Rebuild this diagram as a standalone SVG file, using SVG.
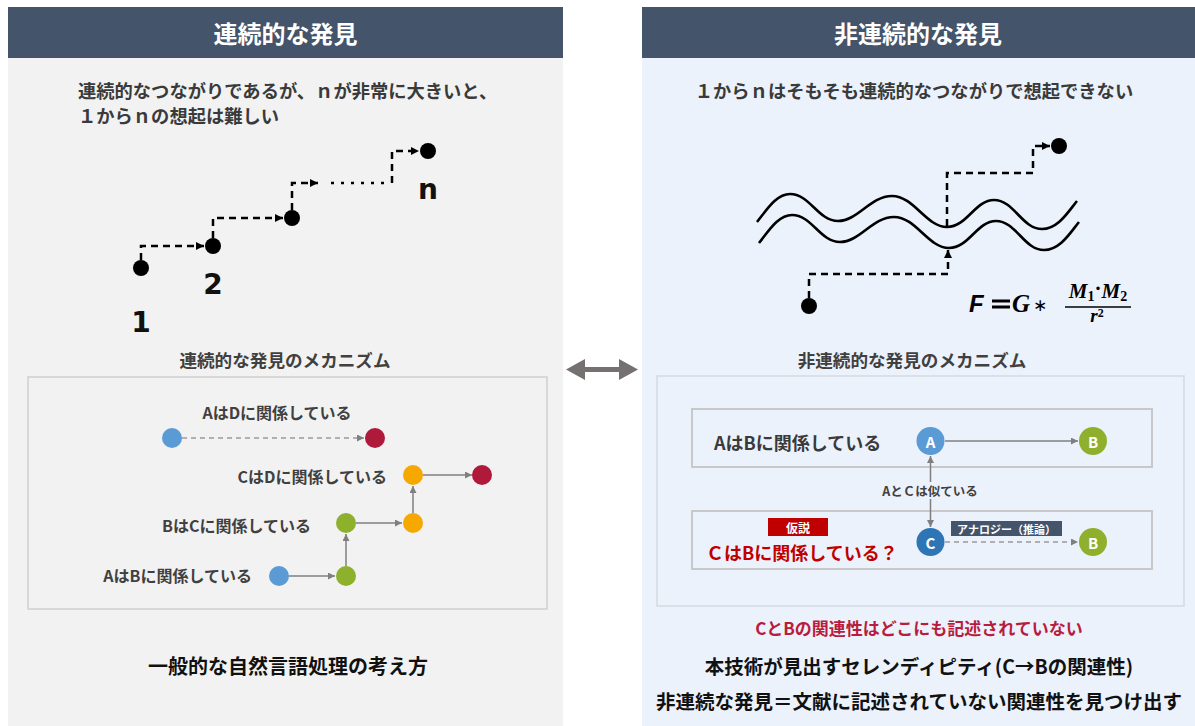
<svg xmlns="http://www.w3.org/2000/svg" width="1195" height="726" viewBox="0 0 1195 726">
<style>
.jp{font-family:'Noto Sans CJK JP','Noto Sans',sans-serif;font-weight:700}
.ttl{font-size:24px;fill:#ffffff}
.t18{font-size:18.3px;fill:#3a3a3a}
.t16{font-size:16px;fill:#404040}
.mt{font-size:17.6px;fill:#404040}
.num{font-family:'DejaVu Sans',Verdana,sans-serif;font-weight:700;font-size:28px;fill:#111}
.stair{fill:none;stroke:#000;stroke-width:2.5;stroke-dasharray:7 5}
.wave{fill:none;stroke:#000;stroke-width:2.6}
.gl{fill:none;stroke:#7f7f7f;stroke-width:1.5}
.gd{fill:none;stroke:#9a9a9a;stroke-width:1.5;stroke-dasharray:5 4}
.box{fill:none;stroke:#cfcfcf;stroke-width:1.5}
.cl{font-family:'Noto Sans CJK JP','Noto Sans',sans-serif;font-weight:700;font-size:15px;fill:#fff}
.math{font-family:'Liberation Serif','DejaVu Serif',serif;font-weight:700;font-style:italic;fill:#000}
</style>
<defs>
<marker id="ah" viewBox="0 0 10 10" refX="10" refY="5" markerWidth="9" markerHeight="8" markerUnits="userSpaceOnUse" orient="auto"><path d="M0,0 L10,5 L0,10 z" fill="#000"/></marker>
<marker id="ag" viewBox="0 0 10 10" refX="10" refY="5" markerWidth="8" markerHeight="7" markerUnits="userSpaceOnUse" orient="auto-start-reverse"><path d="M0,0 L10,5 L0,10 z" fill="#7f7f7f"/></marker>
</defs>

<!-- panels -->
<rect x="0" y="0" width="1195" height="726" fill="#ffffff"/>
<rect x="8" y="58" width="555" height="668" fill="#f2f2f2"/>
<rect x="642" y="58" width="553" height="668" fill="#ebf2fc"/>
<g id="hdr-left"><rect x="8" y="7" width="555" height="51" fill="#44546a"/><text class="jp ttl" x="285.5" y="32" text-anchor="middle" dominant-baseline="central">連続的な発見</text></g>
<g id="hdr-right"><rect x="642" y="7" width="553" height="51" fill="#44546a"/><text class="jp ttl" x="918" y="32" text-anchor="middle" dominant-baseline="central">非連続的な発見</text></g>

<!-- left texts -->
<text class="jp t18" x="78" y="90" dominant-baseline="central">連続的なつながりであるが、ｎが非常に大きいと、</text>
<text class="jp t18" x="78" y="115" dominant-baseline="central">１からｎの想起は難しい</text>

<!-- left staircase -->
<g id="stair-left">
<g id="connectors-stair">
<path class="stair" d="M141,260 V246 H204" marker-end="url(#ah)"/>
<path class="stair" d="M213,238 V218 H283" marker-end="url(#ah)"/>
<path class="stair" d="M292,210 V183 H318" marker-end="url(#ah)"/>
<line x1="331" y1="183" x2="384" y2="183" stroke="#000" stroke-width="2.5" stroke-dasharray="3 7"/>
<path class="stair" d="M392,183 V151 H419" marker-end="url(#ah)"/>
</g>
<g id="p1"><circle cx="141" cy="268" r="8" fill="#000"/><text class="num" x="141" y="322" text-anchor="middle" dominant-baseline="central">1</text></g>
<g id="p2"><circle cx="213" cy="246" r="8" fill="#000"/><text class="num" x="213" y="284" text-anchor="middle" dominant-baseline="central">2</text></g>
<g id="p3"><circle cx="292" cy="218" r="8" fill="#000"/></g>
<g id="pn"><circle cx="428" cy="151" r="8" fill="#000"/><text class="num" x="428" y="189" text-anchor="middle" dominant-baseline="central" font-size="30">n</text></g>
</g>

<!-- left mechanism -->
<text class="jp mt" x="285" y="359" text-anchor="middle" dominant-baseline="central">連続的な発見のメカニズム</text>
<rect class="box" x="28" y="377" width="519" height="232" fill="#f2f2f2"/>
<g id="left-mech-connectors">
<line class="gd" x1="182" y1="438" x2="364" y2="438" marker-end="url(#ag)"/>
<line class="gl" x1="423" y1="475" x2="472" y2="475" marker-end="url(#ag)"/>
<line class="gl" x1="356" y1="523" x2="402" y2="523" marker-end="url(#ag)"/>
<line class="gl" x1="413" y1="513" x2="413" y2="486" marker-end="url(#ag)"/>
<line class="gl" x1="289" y1="576" x2="335" y2="576" marker-end="url(#ag)"/>
<line class="gl" x1="346" y1="566" x2="346" y2="534" marker-end="url(#ag)"/>
</g>
<g id="lbl-ad"><text class="jp t16" x="277" y="412" text-anchor="middle" dominant-baseline="central">AはDに関係している</text></g>
<g id="lbl-cd"><text class="jp t16" x="387" y="476" text-anchor="end" dominant-baseline="central">CはDに関係している</text></g>
<g id="lbl-bc"><text class="jp t16" x="311" y="525" text-anchor="end" dominant-baseline="central">BはCに関係している</text></g>
<g id="lbl-ab"><text class="jp t16" x="252" y="575" text-anchor="end" dominant-baseline="central">AはBに関係している</text></g>
<g id="n-a1"><circle cx="172" cy="438" r="10" fill="#5b9bd5"/></g>
<g id="n-d1"><circle cx="375" cy="438" r="10" fill="#b01a3a"/></g>
<g id="n-c2"><circle cx="413" cy="475" r="10" fill="#f5a800"/></g>
<g id="n-d2"><circle cx="482" cy="475" r="10" fill="#b01a3a"/></g>
<g id="n-b2"><circle cx="346" cy="523" r="10" fill="#8db12c"/></g>
<g id="n-c1"><circle cx="413" cy="523" r="10" fill="#f5a800"/></g>
<g id="n-a2"><circle cx="279" cy="576" r="10" fill="#5b9bd5"/></g>
<g id="n-b1"><circle cx="346" cy="576" r="10" fill="#8db12c"/></g>

<text class="jp" x="288" y="665" font-size="20" fill="#111" text-anchor="middle" dominant-baseline="central">一般的な自然言語処理の考え方</text>

<!-- middle double arrow -->
<polygon points="566,369.5 585,359 585,367 619,367 619,359 638,369.5 619,380 619,372 585,372 585,380" fill="#767171"/>

<!-- right texts -->
<text class="jp t18" x="914" y="90" text-anchor="middle" dominant-baseline="central">１からｎはそもそも連続的なつながりで想起できない</text>

<!-- waves -->
<g id="waves">
<path class="wave" d="M757,222 C766,211 776,194 790,194 C810,194 818,221 838,221 C858,221 870,196 892,196 C914,196 926,227 947,227 C967,227 975,200 994,200 C1014,200 1022,229 1042,229 C1058,229 1068,212 1077,201"/>
<path class="wave" transform="translate(2,21)" d="M757,222 C766,211 776,194 790,194 C810,194 818,221 838,221 C858,221 870,196 892,196 C914,196 926,227 947,227 C967,227 975,200 994,200 C1014,200 1022,229 1042,229 C1058,229 1068,212 1077,201"/>
</g>
<g id="stair-right">
<path class="stair" d="M947,226 V173 H1033 V146 H1050" marker-end="url(#ah)"/>
<path class="stair" d="M809,298 V274 H948 V250" marker-end="url(#ah)"/>
<g id="r-start"><circle cx="809" cy="306" r="8" fill="#000"/></g>
<g id="r-end"><circle cx="1059" cy="146" r="8" fill="#000"/></g>
</g>

<!-- formula -->
<g id="formula">
<text x="969" y="312" font-family="'Liberation Sans',Arial,sans-serif" font-weight="700" font-style="italic" font-size="24">F</text>
<rect x="992" y="299.5" width="18" height="3" fill="#000"/>
<rect x="992" y="305.5" width="18" height="3" fill="#000"/>
<text class="math" x="1012" y="312" font-size="25">G</text>
<text x="1040" y="311" font-family="'DejaVu Sans',sans-serif" font-size="17" text-anchor="middle">∗</text>
<text class="math" x="1098" y="298" font-size="21" text-anchor="middle">M<tspan font-size="14" font-style="normal" dy="3">1</tspan><tspan font-style="normal" dy="-6">·</tspan><tspan dy="3">M</tspan><tspan font-size="14" font-style="normal" dy="3">2</tspan></text>
<line x1="1065" y1="307" x2="1131" y2="307" stroke="#000" stroke-width="1.5"/>
<text class="math" x="1097" y="321.5" font-size="19" text-anchor="middle">r<tspan font-size="12" font-style="normal" dy="-4.5">2</tspan></text>
</g>

<!-- right mechanism -->
<text class="jp mt" x="912" y="359" text-anchor="middle" dominant-baseline="central">非連続的な発見のメカニズム</text>
<rect x="657" y="376" width="527" height="230" fill="none" stroke="#d6d9de" stroke-width="1.5"/>
<rect x="692" y="409" width="460" height="58" fill="none" stroke="#c8c8c8" stroke-width="2"/>
<rect x="692" y="511" width="460" height="58" fill="none" stroke="#c8c8c8" stroke-width="2"/>
<g id="right-mech-connectors">
<line class="gl" x1="945" y1="441" x2="1078" y2="441" marker-end="url(#ag)"/>
<line class="gd" x1="945" y1="542" x2="1078" y2="542" marker-end="url(#ag)"/>
<line class="gl" x1="930.5" y1="456" x2="930.5" y2="527" marker-start="url(#ag)" marker-end="url(#ag)"/>
</g>
<g id="lbl-similar"><rect x="880" y="482" width="100" height="17" fill="#ebf2fc"/><text class="jp" x="930" y="490.5" font-size="12.5" fill="#404040" text-anchor="middle" dominant-baseline="central">AとＣは似ている</text></g>
<g id="lbl-ab-r"><text class="jp" x="714" y="442" font-size="18" fill="#3a3a3a" dominant-baseline="central">AはBに関係している</text></g>
<g id="tag-hyp"><rect x="768" y="518" width="60" height="18" fill="#c00000"/><text class="jp" x="798" y="527" font-size="12" fill="#fff" text-anchor="middle" dominant-baseline="central">仮説</text></g>
<g id="lbl-cb"><text class="jp" x="706" y="552" font-size="18" fill="#c00000" dominant-baseline="central">ＣはBに関係している？</text></g>
<g id="tag-analogy"><rect x="951" y="521" width="111" height="15" fill="#44546a"/><text class="jp" x="1006.5" y="528.5" font-size="11" fill="#fff" text-anchor="middle" dominant-baseline="central">アナロジー（推論）</text></g>
<g id="n-A"><circle cx="930.5" cy="441" r="14" fill="#5b9bd5"/><text class="cl" x="930.5" y="441" text-anchor="middle" dominant-baseline="central">A</text></g>
<g id="n-B1"><circle cx="1093" cy="441" r="14" fill="#8fb02c"/><text class="cl" x="1093" y="441" text-anchor="middle" dominant-baseline="central">B</text></g>
<g id="n-C"><circle cx="930.5" cy="542" r="14" fill="#2e75b6"/><text class="cl" x="930.5" y="542" text-anchor="middle" dominant-baseline="central">C</text></g>
<g id="n-B2"><circle cx="1093" cy="542" r="14" fill="#8fb02c"/><text class="cl" x="1093" y="542" text-anchor="middle" dominant-baseline="central">B</text></g>

<text class="jp" x="919" y="627" font-size="17" fill="#b91c3c" text-anchor="middle" dominant-baseline="central">CとBの関連性はどこにも記述されていない</text>
<text class="jp" x="919" y="665" font-size="19.5" fill="#111" text-anchor="middle" dominant-baseline="central">本技術が見出すセレンディピティ(C→Bの関連性)</text>
<text class="jp" x="919" y="700" font-size="19.5" fill="#111" text-anchor="middle" dominant-baseline="central">非連続な発見＝文献に記述されていない関連性を見つけ出す</text>
</svg>
